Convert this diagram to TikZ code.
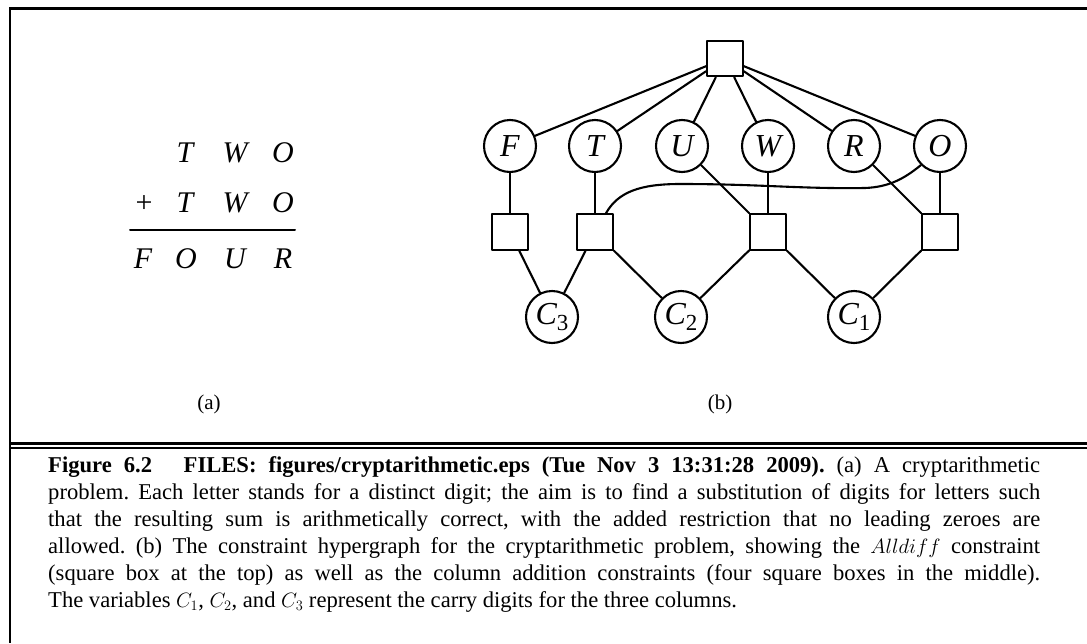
\documentclass[tikz,border=0pt]{standalone}
\usepackage{fontspec}
\setmainfont{Liberation Serif}
\newcommand{\carry}[1]{C\raisebox{-0.45ex}{\fontsize{23}{23}\selectfont\upshape #1}}
\begin{document}
\begin{tikzpicture}[x=1pt,y=-1pt,line join=round,line cap=round]
	\tikzset{var/.style={draw,circle,line width=2.1pt,minimum size=52pt,inner sep=0pt,font=\fontsize{32}{32}\selectfont\itshape},
		cons/.style={draw,rectangle,line width=2.1pt,minimum size=35.5pt,inner sep=0pt},
		link/.style={line width=2.1pt},
		sumtxt/.style={anchor=base,inner sep=0pt,font=\fontsize{30}{30}\selectfont\itshape},
		sublabel/.style={inner sep=0pt,font=\fontsize{21}{21}\selectfont}}
	\useasboundingbox (0,0) rectangle (1087,643);
	% frame
	\draw[line width=3pt,line cap=butt] (9,8.5)--(1087,8.5);
	\draw[line width=2.5pt,line cap=butt] (10,7)--(10,643);
	\draw[line width=3pt,line cap=butt] (10,443.5)--(1087,443.5);
	\draw[line width=1.5pt,line cap=butt] (10,448)--(1087,448);
	% (a) the sum
	\foreach \x/\l [count=\i] in {185/T,235/W,283/O}
	\node[sumtxt] (ta\i) at (\x,162) {\l};
	\node[sumtxt,font=\fontsize{30}{30}\selectfont] (plus) at (144,212) {+};
	\foreach \x/\l [count=\i] in {185/T,235/W,283/O}
	\node[sumtxt] (tb\i) at (\x,212) {\l};
	\foreach \x/\l [count=\i] in {143/F,186/O,235/U,283/R}
	\node[sumtxt] (fo\i) at (\x,268) {\l};
	\draw[line width=2pt] (130,230)--(295,230);
	\node[sublabel] (la) at (209,404) {(a)};
	% (b) the hypergraph
	\node[cons] (all) at (725,58.5) {};
	\foreach \n/\x in {F/510,T/595,U/682,W/768,R/854,O/940}
	\node[var] (\n) at (\x,146) {\n};
	\foreach \n/\x in {1/510,2/595,3/768,4/940}
	\node[cons] (s\n) at (\x,232) {};
	\node[var] (c3) at (552,317) {\carry{3}};
	\node[var] (c2) at (681,317) {\carry{2}};
	\node[var] (c1) at (854,317) {\carry{1}};
	\foreach \n in {F,T,U,W,R,O}
	\draw[link] (all)--(\n);
	\draw[link] (F)--(s1) (T)--(s2) (W)--(s3) (O)--(s4);
	\draw[link] (U)--(s3.north west) (R)--(s4.north west);
	\draw[link] ([xshift=11pt]s2.north) .. controls (618,192) and (640,184) .. (680,184)
		.. controls (760,184) and (800,189) .. (865,188) .. controls (890,187) and (905,178) .. (O.225);
	\draw[link] (s1)--(c3) (s2)--(c3) (s2)--(c2) (s3)--(c2) (s3)--(c1) (s4)--(c1);
	\node[sublabel] (lb) at (720,404) {(b)};
	% caption
	\node[anchor=north west,inner sep=0pt,text width=992pt,align=justify,font=\fontsize{22.6}{27}\selectfont\frenchspacing] (cap) at (48,456)
	{\textbf{Figure 6.2}\hspace{1.4em}\textbf{FILES: figures/cryptarithmetic.eps (Tue Nov 3 13:31:28 2009).} (a) A cryptarithmetic\linebreak
	problem. Each letter stands for a distinct digit; the aim is to find a substitution of digits for letters such\linebreak
	that the resulting sum is arithmetically correct, with the added restriction that no leading zeroes are\linebreak
	allowed. (b) The constraint hypergraph for the cryptarithmetic problem, showing the $Alldiff$ constraint\linebreak
	(square box at the top) as well as the column addition constraints (four square boxes in the middle).\linebreak
	The variables $C_1$, $C_2$, and $C_3$ represent the carry digits for the three columns.};
\end{tikzpicture}
\end{document}
